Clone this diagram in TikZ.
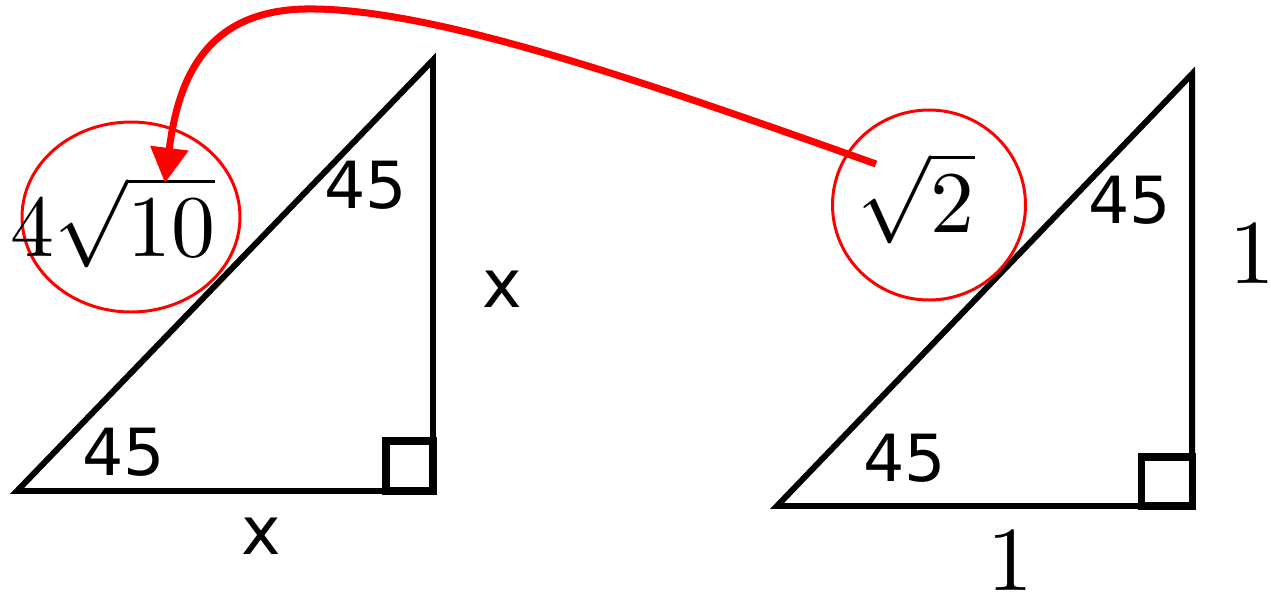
\documentclass[tikz,border=0pt]{standalone}
\usepackage{fontspec}
\newfontfamily\lblfont{DejaVu Sans}
\usepackage{tikz}
\usetikzlibrary{shapes,shapes.geometric,arrows,arrows.meta,positioning,calc}

\begin{document}
\begin{tikzpicture}[x=0.02cm, y=-0.02cm,
  tri/.style={draw, line width=3.4pt, line join=miter},
  rbox/.style={draw, line width=4pt},
  ang/.style={inner sep=0pt, font=\lblfont\fontsize{37}{40}\selectfont},
  side/.style={inner sep=0pt, font=\lblfont\fontsize{38}{40}\selectfont},
  val/.style={inner sep=0pt, scale=5, transform shape},
  ring/.style={ellipse, draw=red, line width=1.7pt, inner sep=0pt},
  arr/.style={-{Triangle[length=20pt, width=21pt]}, red, line width=4pt}
]
\useasboundingbox (0,0) rectangle (1271,602);

% Left triangle
\coordinate (la) at (17,491);
\coordinate (lb) at (433,491);
\coordinate (lc) at (433,60);
\draw[tri] (la) -- (lb) -- (lc) -- cycle;
\draw[rbox] (386,491) rectangle (433,441);

\node[ang] (la45top) at (366,185) {45};
\node[ang] (la45bot) at (124,452) {45};
\node[side] (lx1) at (502,289) {x};
\node[side] (lx2) at (261,536) {x};

% Right triangle
\coordinate (ra) at (777,506);
\coordinate (rb) at (1192,506);
\coordinate (rc) at (1192,74);
\draw[tri] (ra) -- (rb) -- (rc) -- cycle;
\draw[rbox] (1141,506) rectangle (1192,457);

\node[ang] (ra45top) at (1130,200) {45};
\node[ang] (ra45bot) at (905,458) {45};
\node[val, scale=1.04] (r1a) at (1252,254) {$1$};
\node[val, scale=1.04] (r1b) at (1010,561) {$1$};

% Circled hypotenuses
\node[ring, minimum width=218*0.02cm, minimum height=190*0.02cm] (ringL) at (131,217) {};
\node[val] (hypL) at (113,222) {$4\sqrt{10}$};
\node[ring, minimum width=193*0.02cm, minimum height=190*0.02cm] (ringR) at (929,205) {};
\node[val] (hypR) at (916,198) {$\sqrt{2}$};

% Arrow
\coordinate (from) at (876,164);
\coordinate (top) at (305,9);
\coordinate (to) at (165,183);
\draw[arr] (from) .. controls (640,80) and (430,7) .. (top)
  .. controls (205,11) and (178,80) .. (to);

\end{tikzpicture}
\end{document}
